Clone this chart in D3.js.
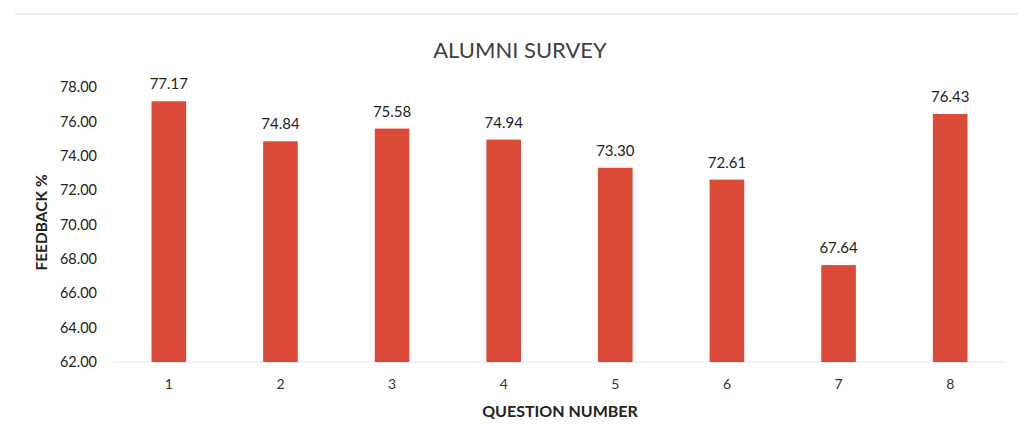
<!DOCTYPE html>
<html>
<head>
<meta charset="utf-8">
<script src="https://cdn.jsdelivr.net/npm/d3@7"></script>
<style>
  body { margin: 0; background: #fff; }
  svg { font-family: Lato, "Open Sans", sans-serif; }
</style>
</head>
<body>
<svg width="1018" height="424"></svg>
<script>
var questions = ["1", "2", "3", "4", "5", "6", "7", "8"];
var feedback = [77.17, 74.84, 75.58, 74.94, 73.30, 72.61, 67.64, 76.43];
var yTicks = [62, 64, 66, 68, 70, 72, 74, 76, 78];

var svg = d3.select("svg");
var margin = { top: 87, right: 12, bottom: 62, left: 113 };
var width = +svg.attr("width") - margin.left - margin.right;
var height = +svg.attr("height") - margin.top - margin.bottom;

var x = d3.scaleBand().domain(questions).range([0, width]).paddingInner(0.69).paddingOuter(0.345);
var y = d3.scaleLinear().domain([62, 78]).range([height, 0]);

// faint scan line at top
svg.append("line")
    .attr("x1", 15).attr("x2", 1018).attr("y1", 14).attr("y2", 14)
    .attr("stroke", "#eee").attr("stroke-width", 2);

var g = svg.append("g")
    .attr("transform", "translate(" + margin.left + "," + margin.top + ")");

g.append("line")
    .attr("x1", 0).attr("x2", width)
    .attr("y1", height).attr("y2", height)
    .attr("stroke", "#e6e6e6");

g.selectAll(".bar")
    .data(feedback)
    .enter().append("rect")
    .attr("class", "bar")
    .attr("x", function(d, i) { return x(questions[i]); })
    .attr("y", function(d) { return y(d); })
    .attr("width", x.bandwidth())
    .attr("height", function(d) { return height - y(d); })
    .attr("fill", "#dc4b38");

g.selectAll(".val")
    .data(feedback)
    .enter().append("text")
    .attr("class", "val")
    .attr("x", function(d, i) { return x(questions[i]) + x.bandwidth() / 2; })
    .attr("y", function(d) { return y(d) - 12; })
    .attr("text-anchor", "middle")
    .attr("font-size", "15px")
    .attr("fill", "#222")
    .text(function(d) { return d.toFixed(2); });

var yAxis = g.append("g")
    .call(d3.axisLeft(y).tickValues(yTicks).tickSize(0).tickPadding(16)
      .tickFormat(function(d) { return d.toFixed(2); }));
yAxis.select(".domain").remove();
yAxis.selectAll("text").attr("font-size", "14.5px").attr("fill", "#222")
    .attr("font-family", "Lato, sans-serif");

var xAxis = g.append("g")
    .attr("transform", "translate(0," + height + ")")
    .call(d3.axisBottom(x).tickSize(0).tickPadding(17));
xAxis.select(".domain").remove();
xAxis.selectAll("text").attr("font-size", "14px").attr("fill", "#333")
    .attr("font-family", "Lato, sans-serif");

svg.append("text")
    .attr("x", 520).attr("y", 58)
    .attr("text-anchor", "middle")
    .attr("font-size", "22px")
    .attr("fill", "#404040")
    .text("ALUMNI SURVEY");

svg.append("text")
    .attr("x", 560).attr("y", 417)
    .attr("text-anchor", "middle")
    .attr("font-size", "16px")
    .attr("font-weight", "bold")
    .attr("fill", "#222")
    .text("QUESTION NUMBER");

svg.append("text")
    .attr("transform", "translate(47," + (margin.top + height / 2 - 2) + ") rotate(-90)")
    .attr("text-anchor", "middle")
    .attr("font-size", "15.5px")
    .attr("font-weight", "bold")
    .attr("fill", "#222")
    .text("FEEDBACK %");
</script>
</body>
</html>
